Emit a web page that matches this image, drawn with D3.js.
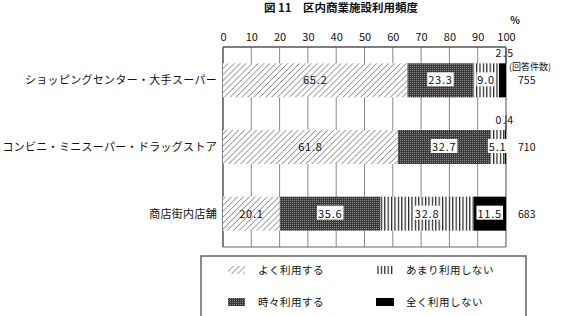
<!DOCTYPE html>
<html lang="ja">
<head>
<meta charset="UTF-8">
<title>図11 区内商業施設利用頻度</title>
<script src="https://d3js.org/d3.v7.min.js"></script>
<style>
  body { margin: 0; background: #fff; }
  svg text { font-family: "Noto Sans CJK JP", "Noto Sans", sans-serif; fill: #111; }
</style>
</head>
<body>
<svg class="chart"></svg>
<script>
const W = 573, H = 316

// data
const categories = ['ショッピングセンター・大手スーパー', 'コンビニ・ミニスーパー・ドラッグストア', '商店街内店舗']
const seriesNames = ['よく利用する', '時々利用する', 'あまり利用しない', '全く利用しない']
const often = [65.2, 61.8, 20.1]
const sometimes = [23.3, 32.7, 35.6]
const rarely = [9.0, 5.1, 32.8]
const never = [2.5, 0.4, 11.5]
const counts = [755, 710, 683]
const ticks = [0, 10, 20, 30, 40, 50, 60, 70, 80, 90, 100]

const keys = ['often', 'sometimes', 'rarely', 'never']
const rows = categories.map((c, i) => ({
  cat: c, often: often[i], sometimes: sometimes[i], rarely: rarely[i], never: never[i], n: counts[i]
}))

const svg = d3.select('.chart').attr('width', W).attr('height', H)

// patterns
const defs = svg.append('defs')
const hatch = defs.append('pattern').attr('id', 'p-often')
  .attr('patternUnits', 'userSpaceOnUse').attr('width', 4.2).attr('height', 4.2)
  .attr('patternTransform', 'rotate(45)')
hatch.append('rect').attr('width', 4.2).attr('height', 4.2).attr('fill', '#fff')
hatch.append('line').attr('x1', 0).attr('y1', 0).attr('x2', 0).attr('y2', 4.2)
  .attr('stroke', '#666').attr('stroke-width', 1.2)

const dots = defs.append('pattern').attr('id', 'p-sometimes')
  .attr('patternUnits', 'userSpaceOnUse').attr('width', 2).attr('height', 2)
dots.append('rect').attr('width', 2).attr('height', 2).attr('fill', '#3a3a3a')
dots.append('rect').attr('x', 0).attr('y', 0).attr('width', 1).attr('height', 1).attr('fill', '#8a8a8a')

const vlines = defs.append('pattern').attr('id', 'p-rarely')
  .attr('patternUnits', 'userSpaceOnUse').attr('width', 3.4).attr('height', 4)
vlines.append('rect').attr('width', 3.4).attr('height', 4).attr('fill', '#fff')
vlines.append('rect').attr('x', 0).attr('width', 1.2).attr('height', 4).attr('fill', '#222')

const fills = { often: 'url(#p-often)', sometimes: 'url(#p-sometimes)', rarely: 'url(#p-rarely)', never: '#000' }

// scales
const x = d3.scaleLinear().domain([0, 100]).range([223, 506])
const y = d3.scaleBand().domain(categories).range([47, 247]).paddingInner(0.49).paddingOuter(0.245)

// title
svg.append('text').attr('x', 341).attr('y', 12).attr('text-anchor', 'middle')
  .attr('font-size', 11.5).attr('font-weight', 'bold').text('図 11　区内商業施設利用頻度')
svg.append('text').attr('x', 515).attr('y', 24).attr('text-anchor', 'middle')
  .attr('font-size', 10).attr('font-weight', 'bold').text('%')

// grid + frame
const grid = svg.append('g')
grid.selectAll('line').data(ticks).join('line')
  .attr('x1', d => x(d)).attr('x2', d => x(d)).attr('y1', 47).attr('y2', 247)
  .attr('stroke', d => (d === 0 ? '#555' : '#888')).attr('stroke-width', d => (d === 0 || d === 100 ? 1.5 : 1))
grid.append('line').attr('x1', x(0)).attr('x2', x(100)).attr('y1', 47).attr('y2', 47)
  .attr('stroke', '#555').attr('stroke-width', 1.5)
grid.append('line').attr('x1', x(0)).attr('x2', x(100)).attr('y1', 247).attr('y2', 247)
  .attr('stroke', '#666').attr('stroke-width', 1.2)

// axis
const axis = svg.append('g').attr('transform', 'translate(0,47)')
  .call(d3.axisTop(x).tickValues(ticks).tickSize(0).tickPadding(6))
axis.select('.domain').remove()
axis.selectAll('text').attr('font-size', 11).attr('font-family', '"Noto Sans CJK JP", sans-serif').attr('fill', '#111')

// bars
const stack = d3.stack().keys(keys)(rows)
const layers = svg.append('g').selectAll('g').data(stack).join('g')
  .attr('fill', d => fills[d.key])
layers.selectAll('rect').data(d => d).join('rect')
  .attr('x', d => x(d[0])).attr('width', d => x(d[1]) - x(d[0]))
  .attr('y', d => y(d.data.cat)).attr('height', y.bandwidth())

// value labels
const labels = []
stack.forEach(layer => layer.forEach(d => {
  const v = d.data[layer.key]
  labels.push({ key: layer.key, v, d })
}))
const lab = svg.append('g')
labels.forEach(l => {
  const cx = x((l.d[0] + l.d[1]) / 2)
  const cy = y(l.d.data.cat) + y.bandwidth() / 2
  const txt = l.v.toFixed(1)
  if (l.v < 3) {
    // small value: label above bar
    lab.append('line').attr('x1', x(100)).attr('x2', x(100)).attr('y1', y(l.d.data.cat) - 15).attr('y2', y(l.d.data.cat))
      .attr('stroke', '#333')
    lab.append('text').attr('x', x(100) - 1).attr('y', y(l.d.data.cat) - 6).attr('text-anchor', 'middle')
      .attr('font-size', 10.5).attr('letter-spacing', 1.5).text(txt)
    return
  }
  const t = lab.append('text').attr('x', cx).attr('y', cy + 4).attr('text-anchor', 'middle')
    .attr('font-size', 11).attr('letter-spacing', 0.8).text(txt)
  if (l.key !== 'often') {
    const bb = t.node().getBBox()
    lab.insert('rect', () => t.node()).attr('x', bb.x - 1).attr('y', bb.y + 1)
      .attr('width', bb.width + 2).attr('height', bb.height - 2).attr('fill', '#fff')
  }
})

// counts
svg.append('text').attr('x', 509).attr('y', 70).attr('font-size', 9).text('(回答件数)')
svg.append('g').selectAll('text').data(rows).join('text')
  .attr('x', 518).attr('y', d => y(d.cat) + y.bandwidth() / 2 + 4)
  .attr('font-size', 10.5).text(d => d.n)

// categories
svg.append('g').selectAll('text').data(rows).join('text')
  .attr('x', 217).attr('y', d => y(d.cat) + y.bandwidth() / 2 + 4)
  .attr('text-anchor', 'end').attr('font-size', 11).attr('letter-spacing', 0.3).text(d => d.cat)

// legend
const lg = svg.append('g')
lg.append('rect').attr('x', 201).attr('y', 256).attr('width', 325).attr('height', 70)
  .attr('fill', '#fff').attr('stroke', '#666').attr('stroke-width', 1.5)
const legendPos = [[228, 270], [228, 302], [376, 270], [376, 302]]
keys.forEach((k, i) => {
  const [lx, ly] = legendPos[i]
  lg.append('rect').attr('x', lx).attr('y', ly - 4).attr('width', k === 'never' ? 18 : 17).attr('height', 8).attr('fill', fills[k])
  lg.append('text').attr('x', lx + 30).attr('y', ly + 4).attr('font-size', 10.5).attr('letter-spacing', 0.5).text(seriesNames[i])
})
</script>
</body>
</html>
